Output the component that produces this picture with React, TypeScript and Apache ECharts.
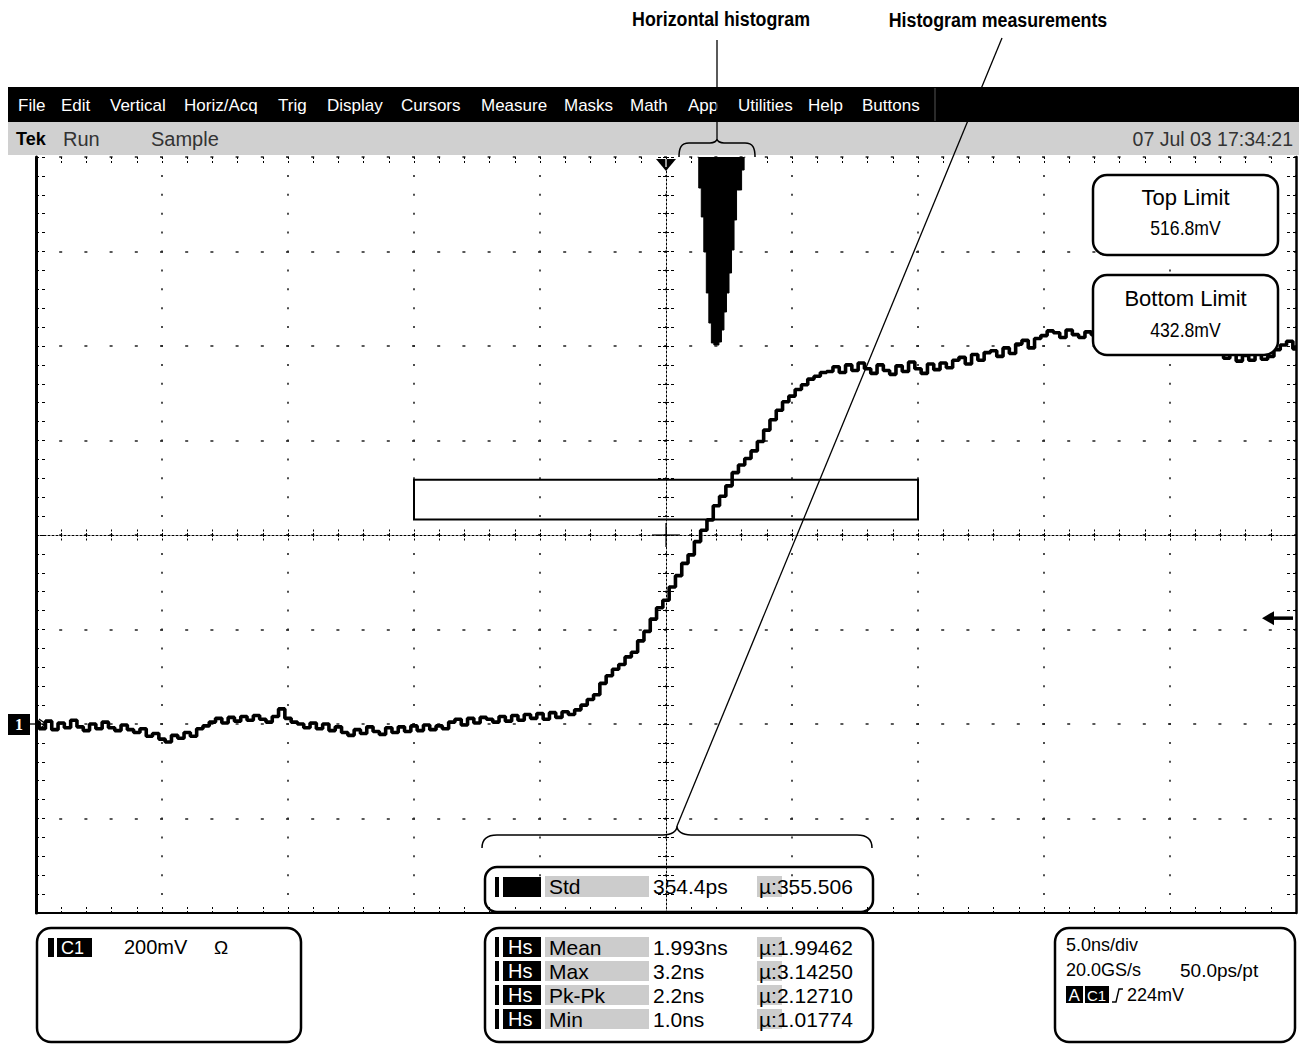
import React, { useEffect, useRef } from 'react';
import * as echarts from 'echarts';

// ---------------- Data ----------------
const nsPerDiv = 5;
const xMinNs = -25;
const xMaxNs = 25;
const mvPerDiv = 200;
const yMinMv = -400;
const yMaxMv = 1200;

// acquisition record (one value every 0.25 ns, starting at -25 ns)
const sampleStartNs = -25;
const sampleStepNs = 0.25;
const traceMv = [
  4, -10, 6, -12, 2, -8, 8, -6,
  -14, 0, -10, 4, -8, -14, -2, -12,
  -18, -10, -26, -20, -32, -38, -24, -30,
  -18, -26, -10, -4, 4, 12, 2, 14,
  6, 16, 8, 18, 10, 4, 16, 32,
  12, 4, 0, -8, 2, -10, 0, -14,
  -6, -18, -24, -12, -20, -6, -16, -22,
  -8, -18, -6, -16, -4, -14, -2, -12,
  -4, -10, 4, 10, -2, 12, 2, 14,
  10, 4, 16, 6, 18, 8, 20, 12,
  22, 10, 24, 14, 26, 20, 30, 40,
  52, 62, 86, 102, 116, 126, 142, 152,
  176, 196, 222, 246, 262, 290, 314, 340,
  358, 386, 410, 432, 462, 482, 504, 532,
  548, 562, 578, 598, 622, 644, 664, 682,
  694, 708, 718, 730, 736, 744, 746, 756,
  744, 760, 748, 764, 752, 742, 760, 748,
  740, 758, 746, 766, 752, 742, 762, 750,
  764, 754, 770, 776, 762, 782, 770, 786,
  790, 778, 796, 784, 804, 812, 796, 816,
  822, 832, 828, 818, 834, 824, 818, 830,
  824, 816, 830, 820, 814, 828, 818, 810,
  822, 812, 806, 818, 810, 802, 814, 806,
  800, 812, 798, 806, 792, 774, 786, 768,
  780, 770, 788, 772, 778, 792, 802, 810,
  794,
];

// horizontal histogram (time bins, hits)
const histBinNs = [1.25, 1.35, 1.45, 1.55, 1.65, 1.75, 1.85, 1.95, 2.05, 2.15, 2.25, 2.35, 2.45, 2.55, 2.65, 2.75, 2.85, 2.95, 3.05, 3.15];
const histHits = [0, 31, 60, 95, 136, 166, 186, 188, 188, 185, 173, 155, 136, 116, 93, 63, 33, 33, 13, 0];
const histScaleMax = 756;

const histWindowNs = [-10, 10];
const topLimitMv = 516.8;
const bottomLimitMv = 432.8;
const triggerLevelMv = 224;
const triggerTimeNs = 0;

const menuItems = ['File', 'Edit', 'Vertical', 'Horiz/Acq', 'Trig', 'Display', 'Cursors', 'Measure', 'Masks', 'Math', 'App', 'Utilities', 'Help', 'Buttons'];
const menuItemX = [18, 61, 110, 184, 278, 327, 401, 481, 564, 630, 688, 738, 808, 862];

const stdRow = ['Std', '354.4ps', 'µ:355.506'];
const measureNames = ['Mean', 'Max', 'Pk-Pk', 'Min'];
const measureValues = ['1.993ns', '3.2ns', '2.2ns', '1.0ns'];
const measureMeans = ['µ:1.99462', 'µ:3.14250', 'µ:2.12710', 'µ:1.01774'];

// ---------------- Shapes ----------------
const braceTopPath = 'M-38,18 C-38,9 -36,4 -28,4 L-7,4 C-3,4 0,2 0,0 C0,2 3,4 7,4 L28,4 C36,4 38,9 38,18';
const braceBottomPath = 'M-195,22 C-195,13 -190,9 -180,9 L-14,9 C-5,9 0,5 0,0 C0,5 5,9 14,9 L180,9 C190,9 195,13 195,22';
echarts.graphic.registerShape('braceTop', echarts.graphic.extendPath(braceTopPath, {}));
echarts.graphic.registerShape('braceBottom', echarts.graphic.extendPath(braceBottomPath, {}));

const FONT = "'Liberation Sans', Arial, Helvetica, sans-serif";

function txt(x: number, y: number, text: string, o: any = {}) {
  const align = o.align || 'left';
  return {
    type: 'text', x, y, z: 120, silent: true, scaleX: o.scaleX || 1,
    style: {
      text, fill: o.fill || '#000', fontSize: o.size || 20, fontFamily: o.family || FONT,
      fontWeight: o.weight || 'normal', align, verticalAlign: 'middle', textAlign: align, textVerticalAlign: 'middle',
    },
  };
}
function rect(x: number, y: number, w: number, h: number, style: any, r = 0, z = 110) {
  return { type: 'rect', z, silent: true, shape: { x, y, width: w, height: h, r }, style };
}
function seg(x1: number, y1: number, x2: number, y2: number, w = 1.3, color = '#000', z = 130) {
  return { type: 'line', z, silent: true, shape: { x1, y1, x2, y2 }, style: { stroke: color, lineWidth: w } };
}

function tickSet(len: number, inside: boolean, type: any) {
  const ls = { color: '#000', width: 1, type };
  return {
    axisTick: { show: true, inside, length: len, lineStyle: ls },
    minorTick: { show: true, splitNumber: 5, length: len, lineStyle: ls },
  };
}
function xAx(extra: any) {
  return {
    type: 'value', min: xMinNs, max: xMaxNs, interval: nsPerDiv,
    axisLabel: { show: false }, splitLine: { show: false }, ...extra,
  };
}
function yAx(extra: any) {
  return {
    type: 'value', min: yMinMv, max: yMaxMv, interval: mvPerDiv,
    axisLabel: { show: false }, splitLine: { show: false }, ...extra,
  };
}

function buildOption() {
  const traceData = traceMv.map((v, i) => [sampleStartNs + i * sampleStepNs, v]);
  const histData = histBinNs.map((t, i) => [t, histHits[i]]);
  return {
    animation: false,
    backgroundColor: '#fff',
    grid: { left: 36, top: 157, width: 1260, height: 756 },
    xAxis: [
      xAx({
        position: 'bottom',
        axisLine: { show: true, onZero: false, lineStyle: { color: '#000', width: 2 } },
        ...tickSet(8, true, [2, 2]),
        splitLine: { show: true, lineStyle: { color: '#222', width: 1.6, type: [2, 16.9], dashOffset: 1 } },
      }),
      xAx({ position: 'top', axisLine: { show: false, onZero: false }, ...tickSet(8, true, [2, 2]) }),
      xAx({
        position: 'bottom', offset: -378,
        axisLine: { show: true, onZero: false, lineStyle: { color: '#000', width: 1, type: [2, 2] } },
        ...tickSet(7, true, [2, 1.5]),
      }),
      xAx({ position: 'bottom', offset: -378, axisLine: { show: false, onZero: false }, ...tickSet(7, false, [2, 1.5]) }),
    ],
    yAxis: [
      yAx({
        position: 'left',
        axisLine: { show: true, onZero: false, lineStyle: { color: '#000', width: 3 } },
        ...tickSet(9, true, [3, 3]),
        splitLine: { show: true, lineStyle: { color: '#222', width: 1.6, type: [3, 22.2], dashOffset: 1.5 } },
      }),
      yAx({
        position: 'right',
        axisLine: { show: true, onZero: false, lineStyle: { color: '#000', width: 2.5 } },
        ...tickSet(9, true, [3, 3]),
      }),
      yAx({
        position: 'left', offset: -630,
        axisLine: { show: true, onZero: false, lineStyle: { color: '#000', width: 1, type: [2, 2] } },
        ...tickSet(8, true, [3, 2]),
      }),
      yAx({ position: 'left', offset: -630, axisLine: { show: false, onZero: false }, ...tickSet(8, false, [3, 2]) }),
      { type: 'value', min: 0, max: histScaleMax, inverse: true, show: false },
    ],
    series: [
      {
        type: 'line', name: 'CH1', xAxisIndex: 0, yAxisIndex: 0, data: traceData,
        step: 'middle', symbol: 'none', silent: true, z: 5,
        lineStyle: { color: '#000', width: 3.6 },
        markArea: {
          silent: true,
          itemStyle: { color: 'rgba(0,0,0,0)', borderColor: '#000', borderWidth: 2 },
          data: [[{ coord: [histWindowNs[0], topLimitMv] }, { coord: [histWindowNs[1], bottomLimitMv] }]],
        },
      },
      {
        type: 'line', name: 'Histogram', xAxisIndex: 0, yAxisIndex: 4, data: histData,
        step: 'middle', symbol: 'none', silent: true, z: 4,
        lineStyle: { color: '#000', width: 1 },
        areaStyle: { color: '#000', opacity: 1, origin: 'start' },
      },
    ],
  };
}

function buildGraphics(chart: any) {
  const px = (t: number) => chart.convertToPixel({ xAxisIndex: 0 }, t) as number;
  const py = (v: number) => chart.convertToPixel({ yAxisIndex: 0 }, v) as number;
  const cx = px(0);
  const cy = py((yMinMv + yMaxMv) / 2);
  const topY = py(yMaxMv);
  const rightX = px(xMaxNs);
  const trigX = px(triggerTimeNs);
  const trigY = py(triggerLevelMv);
  const groundY = py(0);
  const black = { fill: '#000' };
  const gray = { fill: '#cccccc' };
  const boxStroke = { fill: 'none', stroke: '#000', lineWidth: 2.5 };
  const els: any[] = [];

  // annotations
  els.push(txt(721, 19, 'Horizontal histogram', { size: 20, weight: 'bold', align: 'center', scaleX: 0.89 }));
  els.push(txt(998, 20, 'Histogram measurements', { size: 20, weight: 'bold', align: 'center', scaleX: 0.89 }));

  // menu bar + status bar
  els.push(rect(8, 87, 1291, 35, black, 0, 100));
  els.push(seg(935, 88, 935, 121, 1, '#555', 101));
  menuItems.forEach((m, i) => els.push(txt(menuItemX[i], 105, m, { size: 17, fill: '#fff' })));
  els.push(rect(8, 122, 1291, 33, { fill: '#d0d0d0' }, 0, 100));
  els.push(txt(16, 139, 'Tek', { size: 18, weight: 'bold' }));
  els.push(txt(63, 139, 'Run', { size: 20, fill: '#333' }));
  els.push(txt(151, 139, 'Sample', { size: 20, fill: '#333' }));
  els.push(txt(1293, 139, '07 Jul 03 17:34:21', { size: 19.5, fill: '#333', align: 'right' }));

  // leader lines and braces
  els.push(seg(717, 40, 717, 139));
  els.push(seg(1002, 38, 677, 826));
  els.push({ type: 'braceTop', x: 717, y: 139, z: 130, silent: true, style: { fill: 'none', stroke: '#000', lineWidth: 1.5 } });
  els.push({ type: 'braceBottom', x: 677, y: 826, z: 130, silent: true, style: { fill: 'none', stroke: '#000', lineWidth: 1.5 } });

  // limit boxes
  els.push(rect(1093, 175, 185, 80, { fill: '#fff', stroke: '#000', lineWidth: 2.5 }, 14));
  els.push(txt(1185.5, 197, 'Top Limit', { size: 22, align: 'center' }));
  els.push(txt(1185.5, 228, `${topLimitMv.toFixed(1)}mV`, { size: 20, align: 'center', scaleX: 0.88 }));
  els.push(rect(1093, 275, 185, 80, { fill: '#fff', stroke: '#000', lineWidth: 2.5 }, 14));
  els.push(txt(1185.5, 298, 'Bottom Limit', { size: 22, align: 'center' }));
  els.push(txt(1185.5, 330, `${bottomLimitMv.toFixed(1)}mV`, { size: 20, align: 'center', scaleX: 0.88 }));

  // trigger position marker (top)
  els.push({ type: 'polygon', z: 120, silent: true, shape: { points: [[trigX - 10, topY + 2], [trigX + 10, topY + 2], [trigX, topY + 14]] }, style: black });
  els.push(seg(trigX, topY + 2, trigX, topY + 10, 2, '#999', 121));
  // centre cross
  els.push(seg(cx - 14, cy, cx + 14, cy, 1.2, '#000', 20));
  els.push(seg(cx, cy - 12, cx, cy + 12, 1.2, '#000', 20));
  // trigger level arrow (right)
  els.push(seg(rightX - 26, trigY, rightX - 3, trigY, 3.5, '#000', 120));
  els.push({ type: 'polygon', z: 120, silent: true, shape: { points: [[rightX - 34, trigY], [rightX - 22, trigY - 7], [rightX - 22, trigY + 7]] }, style: black });
  // channel ground marker (left)
  els.push(rect(8, groundY - 10, 22, 21, black, 0, 120));
  els.push(txt(19, groundY + 0.5, '1', { size: 16, fill: '#fff', align: 'center', family: "'Liberation Serif', 'DejaVu Serif', serif", weight: 'bold' }));
  els.push({ type: 'polyline', z: 121, silent: true, shape: { points: [[30, groundY], [45, groundY]] }, style: { stroke: '#000', lineWidth: 1.3, fill: 'none' } });
  els.push({ type: 'polyline', z: 121, silent: true, shape: { points: [[39, groundY - 5], [46, groundY], [39, groundY + 5]] }, style: { stroke: '#000', lineWidth: 1.3, fill: 'none' } });

  // Std readout
  els.push(rect(485, 867, 388, 45, boxStroke, 12));
  els.push(rect(495, 877, 4, 20, black));
  els.push(rect(503, 877, 38, 20, black));
  els.push(rect(545, 876, 104, 21, gray));
  els.push(rect(757, 876, 25, 21, gray));
  els.push(txt(549, 886, stdRow[0], { size: 21 }));
  els.push(txt(653, 886, stdRow[1], { size: 21 }));
  els.push(txt(759, 886, stdRow[2], { size: 21 }));

  // histogram measurements
  els.push(rect(485, 928, 388, 114, boxStroke, 14));
  measureNames.forEach((name, i) => {
    const yc = 947 + 24 * i;
    els.push(rect(495, yc - 10, 4, 20, black));
    els.push(rect(503, yc - 10, 38, 20, black));
    els.push(txt(508, yc, 'Hs', { size: 20, fill: '#fff' }));
    els.push(rect(545, yc - 10, 104, 20, gray));
    els.push(rect(757, yc - 10, 25, 20, gray));
    els.push(txt(549, yc, name, { size: 21 }));
    els.push(txt(653, yc, measureValues[i], { size: 21 }));
    els.push(txt(759, yc, measureMeans[i], { size: 21 }));
  });

  // channel readout
  els.push(rect(37, 928, 264, 114, boxStroke, 14));
  els.push(rect(48, 938, 6, 19, black));
  els.push(rect(57, 938, 35, 19, black));
  els.push(txt(61, 948, 'C1', { size: 18, fill: '#fff' }));
  els.push(txt(124, 947, `${mvPerDiv}mV`, { size: 20 }));
  els.push(txt(214, 947, 'Ω', { size: 19 }));

  // timebase readout
  els.push(rect(1055, 928, 240, 114, boxStroke, 14));
  els.push(txt(1066, 945, `${nsPerDiv.toFixed(1)}ns/div`, { size: 18 }));
  els.push(txt(1066, 970, '20.0GS/s', { size: 18 }));
  els.push(txt(1180, 970, '50.0ps/pt', { size: 19 }));
  els.push(rect(1066, 986, 17, 17, black));
  els.push(txt(1068.5, 995, 'A', { size: 17, fill: '#fff' }));
  els.push(rect(1085, 986, 24, 17, black));
  els.push(txt(1087, 995, 'C1', { size: 15, fill: '#fff' }));
  els.push({ type: 'polyline', z: 121, silent: true, shape: { points: [[1112, 1002], [1116, 1002], [1119, 989], [1123, 989]] }, style: { stroke: '#000', lineWidth: 1.4, fill: 'none' } });
  els.push(txt(1127, 995, `${triggerLevelMv}mV`, { size: 18 }));

  return els;
}

export default function App() {
  const ref = useRef<HTMLDivElement>(null);
  useEffect(() => {
    const chart = echarts.init(ref.current as HTMLDivElement, null, { renderer: 'svg' });
    chart.setOption(buildOption() as any);
    chart.setOption({ graphic: { elements: buildGraphics(chart) } } as any);
    return () => chart.dispose();
  }, []);
  return <div ref={ref} style={{ position: 'absolute', left: 0, top: 0, width: 1299, height: 1046, background: '#fff' }} />;
}
